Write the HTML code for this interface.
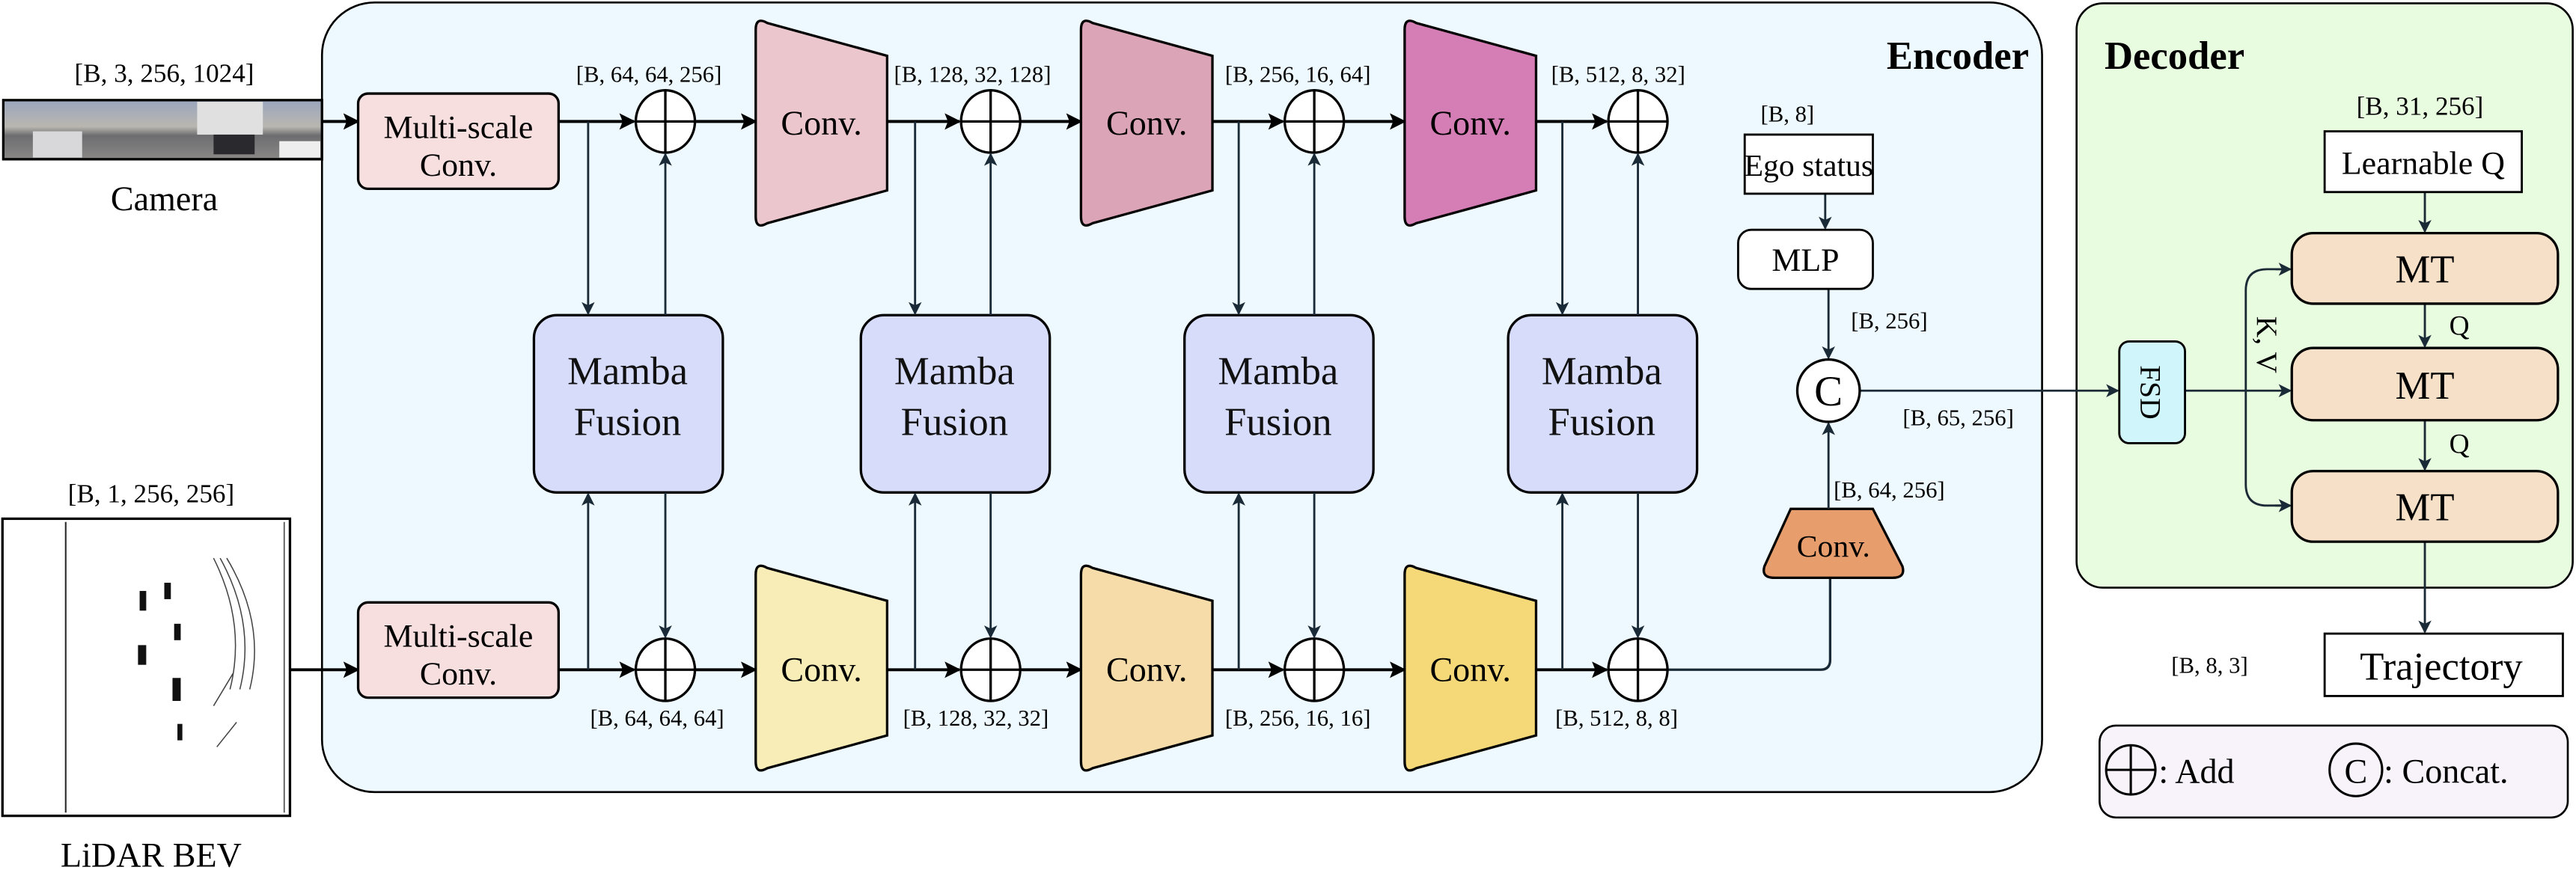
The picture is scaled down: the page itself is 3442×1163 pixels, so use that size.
<!DOCTYPE html>
<html><head><meta charset="utf-8"><style>html,body{margin:0;padding:0;background:#fff}svg{display:block}svg text{font-family:"Liberation Serif","Times New Roman",serif}</style></head>
<body>
<svg width="3442" height="1163" viewBox="0 0 1568 530" preserveAspectRatio="none" xmlns="http://www.w3.org/2000/svg">
<defs>
<marker id="a" markerWidth="8" markerHeight="8" refX="7" refY="4" orient="auto" markerUnits="userSpaceOnUse"><path d="M0,0 L8,4 L0,8 L2,4 z" fill="#1a2a36"/></marker>
<marker id="b" markerWidth="10" markerHeight="10" refX="9" refY="5" orient="auto" markerUnits="userSpaceOnUse"><path d="M0,0 L10,5 L0,10 L2,5 z" fill="#000"/></marker>
<linearGradient id="cam" x1="0" y1="0" x2="0" y2="1"><stop offset="0" stop-color="#9aa6bd"/><stop offset="0.45" stop-color="#b9b6b0"/><stop offset="0.6" stop-color="#6d6d70"/><stop offset="1" stop-color="#8a8886"/></linearGradient>
</defs>
<rect x="196" y="1.5" width="1047" height="481" rx="32" fill="#edf9fe" stroke="#000" stroke-width="1.2"/>
<rect x="1264" y="2" width="302" height="356" rx="16" fill="#e8fce0" stroke="#000" stroke-width="1.2"/>
<rect x="1278" y="442" width="285" height="56" rx="10" fill="#f8f3fb" stroke="#000" stroke-width="1.2"/>
<text x="1235" y="42" font-size="24" font-weight="bold" text-anchor="end">Encoder</text>
<text x="1281" y="42" font-size="24" font-weight="bold">Decoder</text>

<text x="100" y="50" font-size="16" text-anchor="middle">[B, 3, 256, 1024]</text>
<rect x="2" y="61" width="194" height="36" fill="url(#cam)" stroke="#000" stroke-width="1.5"/>
<rect x="120" y="62" width="40" height="20" fill="#e0e0e0"/>
<rect x="20" y="80" width="30" height="16" fill="#d8d8da"/><rect x="130" y="82" width="25" height="12" fill="#2a2a2e"/><rect x="170" y="86" width="25" height="10" fill="#eee"/>
<text x="100" y="128" font-size="21" text-anchor="middle">Camera</text>
<text x="92" y="306" font-size="16" text-anchor="middle">[B, 1, 256, 256]</text>
<rect x="1.5" y="316" width="175" height="181" fill="#fff" stroke="#000" stroke-width="1.5"/>
<line x1="40" y1="318" x2="40" y2="495" stroke="#333" stroke-width="1"/><line x1="173" y1="318" x2="173" y2="495" stroke="#555" stroke-width="0.8"/>
<g fill="#111"><rect x="85" y="360" width="4" height="12"/><rect x="100" y="355" width="4" height="10"/><rect x="84" y="393" width="5" height="12"/><rect x="106" y="380" width="4" height="10"/><rect x="105" y="413" width="5" height="14"/><rect x="108" y="441" width="3" height="10"/></g>
<g stroke="#444" stroke-width="0.7" fill="none"><path d="M130,340 Q150,380 140,420"/><path d="M134,340 Q156,380 146,420"/><path d="M138,340 Q162,380 152,420"/><path d="M130,430 L142,410"/><path d="M132,455 L144,440"/></g>
<text x="92" y="528" font-size="21" text-anchor="middle">LiDAR BEV</text>

<line x1="196" y1="74" x2="218" y2="74" stroke="#000" stroke-width="1.8" marker-end="url(#b)"/>
<line x1="177" y1="408" x2="218" y2="408" stroke="#000" stroke-width="1.8" marker-end="url(#b)"/>

<g stroke="#000" stroke-width="1.5">
<rect x="218" y="57" width="122" height="58" rx="6" fill="#f7dfdf"/>
<rect x="218" y="367" width="122" height="58" rx="6" fill="#f7dfdf"/>
</g>
<g font-size="20" text-anchor="middle"><text x="279" y="84">Multi-scale</text><text x="279" y="107">Conv.</text><text x="279" y="394">Multi-scale</text><text x="279" y="417">Conv.</text></g>

<g stroke="#000" stroke-width="1.8" fill="none">
<line x1="340" y1="74" x2="386" y2="74" marker-end="url(#b)"/><line x1="422" y1="74" x2="460" y2="74" marker-end="url(#b)"/>
<line x1="540" y1="74" x2="584" y2="74" marker-end="url(#b)"/><line x1="620" y1="74" x2="658" y2="74" marker-end="url(#b)"/>
<line x1="738" y1="74" x2="781" y2="74" marker-end="url(#b)"/><line x1="817" y1="74" x2="855" y2="74" marker-end="url(#b)"/>
<line x1="935" y1="74" x2="978" y2="74" marker-end="url(#b)"/>
<line x1="340" y1="408" x2="386" y2="408" marker-end="url(#b)"/><line x1="422" y1="408" x2="460" y2="408" marker-end="url(#b)"/>
<line x1="540" y1="408" x2="584" y2="408" marker-end="url(#b)"/><line x1="620" y1="408" x2="658" y2="408" marker-end="url(#b)"/>
<line x1="738" y1="408" x2="781" y2="408" marker-end="url(#b)"/><line x1="817" y1="408" x2="855" y2="408" marker-end="url(#b)"/>
<line x1="935" y1="408" x2="978" y2="408" marker-end="url(#b)"/>
</g>
<path d="M1015,408 H1108 Q1114,408 1114,402 V352" stroke="#1a2a36" stroke-width="1.5" fill="none"/>

<g stroke="#000" stroke-width="1.5" fill="#fff">
<g id="add"><ellipse cx="405" cy="74" rx="18" ry="19"/><line x1="387" y1="74" x2="423" y2="74"/><line x1="405" y1="55" x2="405" y2="93"/></g>
<use href="#add" x="198"/><use href="#add" x="395"/><use href="#add" x="592"/>
<use href="#add" y="334"/><use href="#add" x="198" y="334"/><use href="#add" x="395" y="334"/><use href="#add" x="592" y="334"/>
</g>

<g stroke="#000" stroke-width="1.5">
<path d="M460,18 Q460,10 467,14 L540,34 V116 L467,136 Q460,140 460,132 Z" fill="#ecc6cd"/>
<path d="M658,18 Q658,10 665,14 L738,34 V116 L665,136 Q658,140 658,132 Z" fill="#dca5b7"/>
<path d="M855,18 Q855,10 862,14 L935,34 V116 L862,136 Q855,140 855,132 Z" fill="#d57db5"/>
<path d="M460,350 Q460,342 467,346 L540,366 V448 L467,468 Q460,472 460,464 Z" fill="#f9edb7"/>
<path d="M658,350 Q658,342 665,346 L738,366 V448 L665,468 Q658,472 658,464 Z" fill="#f6dca9"/>
<path d="M855,350 Q855,342 862,346 L935,366 V448 L862,468 Q855,472 855,464 Z" fill="#f5d978"/>
<path d="M1090,310 H1140 L1158,345 Q1160,352 1152,352 H1080 Q1072,352 1074,345 Z" fill="#e89e6c"/>
</g>
<g font-size="21" text-anchor="middle">
<text x="500" y="82">Conv.</text><text x="698" y="82">Conv.</text><text x="895" y="82">Conv.</text>
<text x="500" y="415">Conv.</text><text x="698" y="415">Conv.</text><text x="895" y="415">Conv.</text>
<text x="1116" y="339" font-size="19">Conv.</text>
</g>

<g stroke="#000" stroke-width="1.5" fill="#d6dcfa">
<rect x="325" y="192" width="115" height="108" rx="14"/><rect x="524" y="192" width="115" height="108" rx="14"/>
<rect x="721" y="192" width="115" height="108" rx="14"/><rect x="918" y="192" width="115" height="108" rx="14"/>
</g>
<g font-size="24" text-anchor="middle" fill="#111">
<text x="382" y="234">Mamba</text><text x="382" y="265">Fusion</text>
<text x="581" y="234">Mamba</text><text x="581" y="265">Fusion</text>
<text x="778" y="234">Mamba</text><text x="778" y="265">Fusion</text>
<text x="975" y="234">Mamba</text><text x="975" y="265">Fusion</text>
</g>
<g stroke="#1a2a36" stroke-width="1.3" marker-end="url(#a)">
<line x1="358" y1="74" x2="358" y2="191"/><line x1="405" y1="192" x2="405" y2="94"/>
<line x1="358" y1="408" x2="358" y2="301"/><line x1="405" y1="300" x2="405" y2="388"/>
<line x1="557" y1="74" x2="557" y2="191"/><line x1="603" y1="192" x2="603" y2="94"/>
<line x1="557" y1="408" x2="557" y2="301"/><line x1="603" y1="300" x2="603" y2="388"/>
<line x1="754" y1="74" x2="754" y2="191"/><line x1="800" y1="192" x2="800" y2="94"/>
<line x1="754" y1="408" x2="754" y2="301"/><line x1="800" y1="300" x2="800" y2="388"/>
<line x1="951" y1="74" x2="951" y2="191"/><line x1="997" y1="192" x2="997" y2="94"/>
<line x1="951" y1="408" x2="951" y2="301"/><line x1="997" y1="300" x2="997" y2="388"/>
<line x1="1111" y1="118" x2="1111" y2="139"/><line x1="1113" y1="176" x2="1113" y2="218"/>
<line x1="1113" y1="310" x2="1113" y2="258"/>
<line x1="1132" y1="238" x2="1289" y2="238"/>
<line x1="1330" y1="238" x2="1394" y2="238"/>
<line x1="1476" y1="117" x2="1476" y2="141"/><line x1="1476" y1="185" x2="1476" y2="211"/>
<line x1="1476" y1="256" x2="1476" y2="286"/><line x1="1476" y1="330" x2="1476" y2="385"/>
</g>
<path d="M1394,164 H1380 Q1367,164 1367,177 V295 Q1367,308 1380,308 H1394" stroke="#1a2a36" stroke-width="1.3" fill="none"/>
<line x1="1385" y1="164" x2="1394" y2="164" stroke="#1a2a36" stroke-width="1.3" marker-end="url(#a)"/>
<line x1="1385" y1="308" x2="1394" y2="308" stroke="#1a2a36" stroke-width="1.3" marker-end="url(#a)"/>

<rect x="1062" y="82" width="78" height="36" fill="#fff" stroke="#000" stroke-width="1.3"/>
<text x="1101" y="107" font-size="19" text-anchor="middle">Ego status</text>
<rect x="1058" y="140" width="82" height="36" rx="8" fill="#fff" stroke="#000" stroke-width="1.3"/>
<text x="1099" y="165" font-size="20" text-anchor="middle">MLP</text>
<circle cx="1113" cy="238" r="19" fill="#fff" stroke="#000" stroke-width="1.5"/>
<text x="1113" y="247" font-size="26" text-anchor="middle">C</text>

<rect x="1290" y="208" width="40" height="62" rx="6" fill="#d0f6fb" stroke="#000" stroke-width="1.3"/>
<text transform="translate(1303,239) rotate(90)" font-size="18" text-anchor="middle">FSD</text>
<text transform="translate(1374,210) rotate(90)" font-size="18" text-anchor="middle">K, V</text>
<rect x="1415" y="80" width="120" height="37" fill="#fff" stroke="#000" stroke-width="1.3"/>
<text x="1475" y="106" font-size="20" text-anchor="middle">Learnable Q</text>
<g stroke="#000" stroke-width="1.5" fill="#f6e0c8">
<rect x="1395" y="142" width="162" height="43" rx="13"/><rect x="1395" y="212" width="162" height="44" rx="13"/><rect x="1395" y="287" width="162" height="43" rx="13"/>
</g>
<g font-size="24" text-anchor="middle"><text x="1476" y="172">MT</text><text x="1476" y="243">MT</text><text x="1476" y="317">MT</text></g>
<text x="1497" y="204" font-size="17" text-anchor="middle">Q</text><text x="1497" y="276" font-size="17" text-anchor="middle">Q</text>
<rect x="1415" y="386" width="145" height="38" fill="#fff" stroke="#000" stroke-width="1.3"/>
<text x="1486" y="414" font-size="24" text-anchor="middle">Trajectory</text>
<text x="1345" y="410" font-size="14" text-anchor="middle">[B, 8, 3]</text>

<g stroke="#000" stroke-width="1.4" fill="none"><circle cx="1297" cy="469" r="15"/><line x1="1282" y1="469" x2="1312" y2="469"/><line x1="1297" y1="454" x2="1297" y2="484"/><circle cx="1434" cy="469" r="16"/></g>
<text x="1434" y="477" font-size="21" text-anchor="middle">C</text>
<text x="1314" y="477" font-size="21">: Add</text>
<text x="1451" y="477" font-size="21">: Concat.</text>

<g font-size="14" text-anchor="middle">
<text x="395" y="50">[B, 64, 64, 256]</text><text x="592" y="50">[B, 128, 32, 128]</text>
<text x="790" y="50">[B, 256, 16, 64]</text><text x="985" y="50">[B, 512, 8, 32]</text>
<text x="400" y="442">[B, 64, 64, 64]</text><text x="594" y="442">[B, 128, 32, 32]</text>
<text x="790" y="442">[B, 256, 16, 16]</text><text x="984" y="442">[B, 512, 8, 8]</text>
<text x="1088" y="74">[B, 8]</text><text x="1150" y="200">[B, 256]</text>
<text x="1192" y="259">[B, 65, 256]</text><text x="1150" y="303">[B, 64, 256]</text>
<text x="1473" y="70" font-size="16">[B, 31, 256]</text>
</g>
</svg>
</body></html>
